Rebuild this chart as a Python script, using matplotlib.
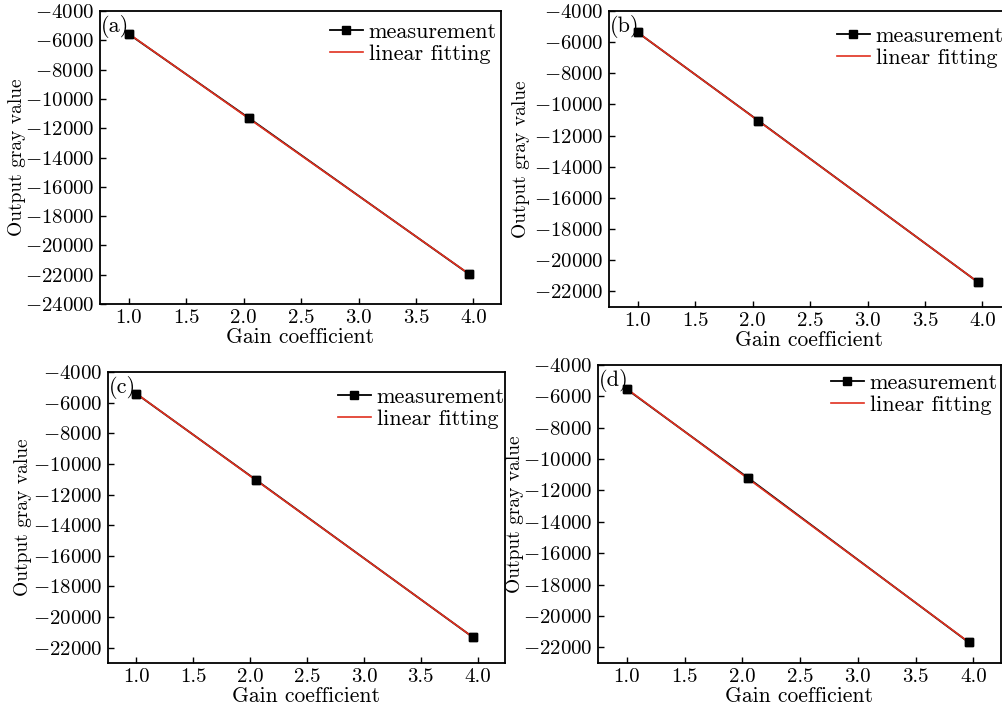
import numpy as np
import matplotlib
matplotlib.use("Agg")
import matplotlib.pyplot as plt

plt.rcParams['font.family'] = ['cmr10', 'DejaVu Serif']
plt.rcParams['mathtext.fontset'] = 'cm'
plt.rcParams['axes.formatter.use_mathtext'] = True
plt.rcParams['axes.unicode_minus'] = True

gain = [1.0, 2.05, 3.96]
panel_labels = ['(a)', '(b)', '(c)', '(d)']
values_a = [-5575, -11330, -21950]
values_b = [-5380, -11040, -21400]
values_c = [-5425, -11040, -21330]
values_d = [-5550, -11200, -21680]
series = [values_a, values_b, values_c, values_d]
ylims = [(-24000, -4000), (-23000, -4000), (-23000, -4000), (-23000, -4000)]
yticks_low = [-24000, -22000, -22000, -22000]
xticks = [1.0, 1.5, 2.0, 2.5, 3.0, 3.5, 4.0]

W, H = 1003, 713
# axes boxes in pixels: left, top, right, bottom
boxes = [(100, 11, 501, 304), (609, 11, 1010, 307), (108, 372, 505, 663), (598, 365, 1001, 663)]
ylabel_right = [26, 530, 32, 524]
legend_right = [499, 1006, 507, 1000]
legend_top = [20, 24, 385, 371]

fig = plt.figure(figsize=(W / 100, H / 100), dpi=100)
for i in range(4):
    l, t, r, b = boxes[i]
    ax = fig.add_axes([l / W, 1 - b / H, (r - l) / W, (b - t) / H])
    y = series[i]
    ax.plot(gain, y, color='black', lw=1.3, marker='s', ms=5.5, label='measurement', zorder=2)
    coef = np.polyfit(gain, y, 1)
    xf = np.array([gain[0], gain[-1]])
    ax.plot(xf, np.polyval(coef, xf), color='#e0301f', lw=1.2, label='linear fitting', zorder=3)
    ax.plot(gain, y, ls='none', marker='s', ms=5.5, color='black', zorder=4)
    ax.set_xlim(0.75, 4.24)
    ax.set_ylim(*ylims[i])
    ax.set_xticks(xticks)
    ax.set_xticklabels([f'{v:.1f}' for v in xticks])
    ax.set_yticks(np.arange(yticks_low[i], -4000 + 1, 2000))
    ax.tick_params(direction='in', length=4, width=1, labelsize=15, top=False, right=False, pad=4)
    for s in ax.spines.values():
        s.set_linewidth(1.3)
    ax.set_xlabel('Gain coefficient', fontsize=15.5, labelpad=0)
    ax.set_ylabel('Output gray value', fontsize=14)
    ax.yaxis.set_label_coords((ylabel_right[i] - l) / (r - l), 0.5)
    ax.text(0.003, 0.985, panel_labels[i], transform=ax.transAxes, ha='left', va='top', fontsize=16)
    ax.legend(loc='upper right', bbox_to_anchor=(legend_right[i] / W, 1 - legend_top[i] / H),
              bbox_transform=fig.transFigure, frameon=False, fontsize=16,
              handlelength=1.5, handletextpad=0.25, labelspacing=0.12, borderaxespad=0.0,
              borderpad=0.1)

fig.savefig('out.png', dpi=100, facecolor='white')
